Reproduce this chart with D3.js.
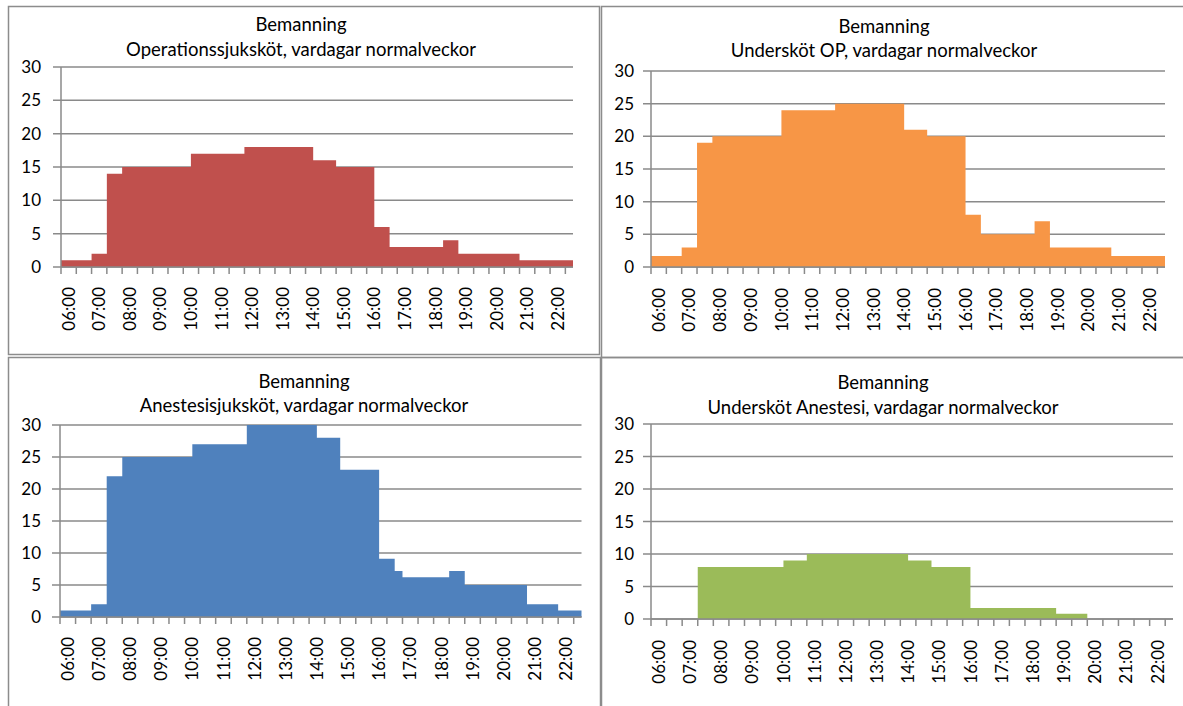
<!DOCTYPE html>
<html>
<head>
<meta charset="utf-8">
<script src="https://cdn.jsdelivr.net/npm/d3@7"></script>
<style>
  body { margin: 0; background: #fff; }
  svg { display: block; font-family: Lato, "Open Sans", sans-serif; }
</style>
</head>
<body>
<div id="canvas"></div>
<script>
// Staffing (Bemanning) step data: time where level starts + level
var dayEnd = "22:45";

var opTimes = ["06:00","07:00","07:30","08:00","10:15","12:00","14:15","15:00","16:15","16:45","18:30","19:00","21:00"];
var opValues = [1, 2, 14, 15, 17, 18, 16, 15, 6, 3, 4, 2, 1];

var uskOpTimes = ["06:00","07:00","07:30","08:00","10:15","12:00","14:15","15:00","16:15","16:45","18:30","19:00","21:00"];
var uskOpValues = [1.7, 3, 19, 20, 24, 25, 21, 20, 8, 5, 7, 3, 1.7];

var anTimes = ["06:00","07:00","07:30","08:00","10:15","12:00","14:15","15:00","16:15","16:45","17:00","18:30","19:00","21:00","22:00"];
var anValues = [1, 2, 22, 25, 27, 30, 28, 23, 9.1, 7.2, 6.2, 7.2, 5, 2, 1];

var uskAnTimes = ["06:00","07:30","10:15","11:00","14:15","15:00","16:15","19:00","20:00"];
var uskAnValues = [0, 8, 9, 10, 9, 8, 1.7, 0.8, 0];

var hourLabels = ["06:00","07:00","08:00","09:00","10:00","11:00","12:00","13:00","14:00","15:00","16:00","17:00","18:00","19:00","20:00","21:00","22:00"];
var yTicks = [0, 5, 10, 15, 20, 25, 30];

var titleTop = "Bemanning";
var subtitles = [
  "Operationssjuksköt, vardagar normalveckor",
  "Undersköt OP, vardagar normalveckor",
  "Anestesisjuksköt, vardagar normalveckor",
  "Undersköt Anestesi, vardagar normalveckor"
];

var W = 1183, H = 706;
var gridColor = "#8a8a8a";

function mins(t) {
  var p = t.split(":");
  return +p[0] * 60 + +p[1];
}

// layout of each of the four panels
var panels = [
  { times: opTimes, values: opValues, color: "#c0504d", sub: subtitles[0],
    box: [8, 6, 599, 354], x0: 61, x1: 573, yTop: 67, yBot: 267, cx: 301, t1: 31, t2: 56, lblX: 41, xl: 287 },
  { times: uskOpTimes, values: uskOpValues, color: "#f79646", sub: subtitles[1],
    box: [601, 6, 1190, 357], x0: 651, x1: 1165, yTop: 71, yBot: 267, cx: 884, t1: 33, t2: 57, lblX: 634, xl: 288 },
  { times: anTimes, values: anValues, color: "#4f81bd", sub: subtitles[2],
    box: [8, 357, 600, 720], x0: 60, x1: 581.5, yTop: 425, yBot: 617, cx: 304, t1: 388, t2: 412, lblX: 41, xl: 637 },
  { times: uskAnTimes, values: uskAnValues, color: "#9bbb59", sub: subtitles[3],
    box: [601, 357, 1190, 720], x0: 651, x1: 1173, yTop: 424, yBot: 619, cx: 883, t1: 389, t2: 414, lblX: 634, xl: 640 }
];

var svg = d3.select("#canvas").append("svg")
    .attr("width", W)
    .attr("height", H);

panels.forEach(function(p) {
  var g = svg.append("g");

  // panel frame
  g.append("rect")
      .attr("x", p.box[0] + 0.5)
      .attr("y", p.box[1] + 0.5)
      .attr("width", p.box[2] - p.box[0])
      .attr("height", p.box[3] - p.box[1])
      .attr("fill", "none")
      .attr("stroke", "#8c8c8c")
      .attr("stroke-width", 1.5);

  var x = d3.scaleLinear().domain([mins("06:00"), mins(dayEnd)]).range([p.x0, p.x1]);
  var y = d3.scaleLinear().domain([0, 30]).range([p.yBot, p.yTop]);

  // gridlines + outside y ticks
  g.selectAll("line.grid")
    .data(yTicks)
    .enter().append("line")
      .attr("class", "grid")
      .attr("x1", p.x0 - 8)
      .attr("x2", p.x1)
      .attr("y1", function(d) { return y(d); })
      .attr("y2", function(d) { return y(d); })
      .attr("stroke", gridColor)
      .attr("stroke-width", 1.5);

  // step area
  var pts = p.times.map(function(t, i) { return { m: mins(t), v: p.values[i] }; });
  pts.push({ m: mins(dayEnd), v: p.values[p.values.length - 1] });

  var area = d3.area()
      .curve(d3.curveStepAfter)
      .x(function(d) { return x(d.m); })
      .y0(y(0))
      .y1(function(d) { return y(d.v); });

  g.append("path")
      .datum(pts)
      .attr("d", area)
      .attr("fill", p.color);

  // y axis line
  g.append("line")
      .attr("x1", p.x0).attr("x2", p.x0)
      .attr("y1", p.yTop).attr("y2", p.yBot)
      .attr("stroke", gridColor)
      .attr("stroke-width", 1.5);

  // x axis line and half-hour ticks
  g.append("line")
      .attr("x1", p.x0).attr("x2", p.x1)
      .attr("y1", p.yBot).attr("y2", p.yBot)
      .attr("stroke", gridColor)
      .attr("stroke-width", 1.5);

  var tickMins = d3.range(mins("06:00"), mins("22:30") + 1, 30);
  g.selectAll("line.xt")
    .data(tickMins)
    .enter().append("line")
      .attr("class", "xt")
      .attr("x1", function(d) { return x(d); })
      .attr("x2", function(d) { return x(d); })
      .attr("y1", p.yBot)
      .attr("y2", p.yBot + 7)
      .attr("stroke", gridColor)
      .attr("stroke-width", 1.5);

  // y labels
  g.selectAll("text.yl")
    .data(yTicks)
    .enter().append("text")
      .attr("class", "yl")
      .attr("x", p.lblX)
      .attr("y", function(d) { return y(d); })
      .attr("dy", "0.36em")
      .attr("text-anchor", "end")
      .attr("font-size", 17)
      .attr("fill", "#000")
      .text(function(d) { return d; });

  // x labels, rotated, centred over first half-hour of each hour
  g.selectAll("text.xl")
    .data(hourLabels)
    .enter().append("text")
      .attr("class", "xl")
      .attr("transform", function(d) {
        return "translate(" + x(mins(d) + 15) + "," + p.xl + ") rotate(-90)";
      })
      .attr("dy", "0.36em")
      .attr("text-anchor", "end")
      .attr("font-size", 17)
      .attr("fill", "#000")
      .text(function(d) { return d; });

  // titles
  g.append("text")
      .attr("x", p.cx).attr("y", p.t1)
      .attr("text-anchor", "middle")
      .attr("font-size", 18.5)
      .text(titleTop);
  g.append("text")
      .attr("x", p.cx).attr("y", p.t2)
      .attr("text-anchor", "middle")
      .attr("font-size", 18.5)
      .text(p.sub);
});
</script>
</body>
</html>
